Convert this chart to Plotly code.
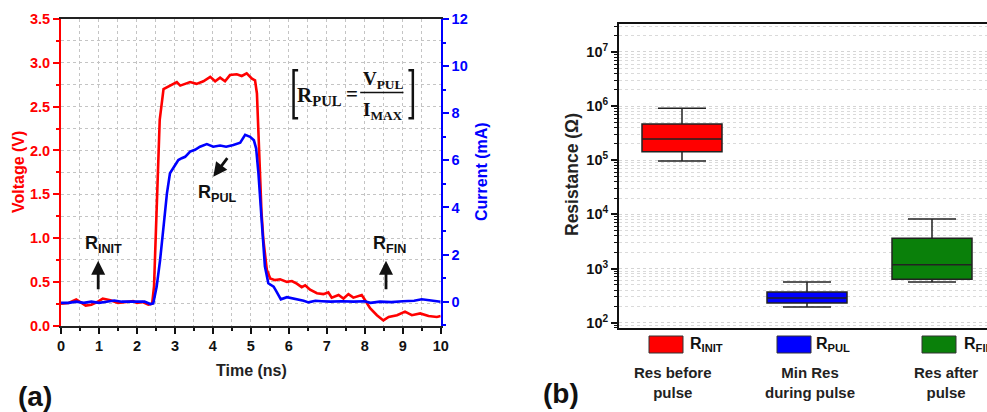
import plotly.graph_objects as go

# ---------------- data ----------------
time_v = [0, 0.2, 0.4, 0.5, 0.65, 0.8, 0.95, 1.1, 1.3, 1.5, 1.7, 1.9, 2.0, 2.15, 2.3, 2.4,
          2.45, 2.5, 2.55, 2.6, 2.7, 2.87, 3.05, 3.14, 3.25, 3.4, 3.57, 3.75, 3.93, 4.06,
          4.19, 4.32, 4.45, 4.63, 4.76, 4.89, 5.03, 5.11, 5.16, 5.22, 5.28, 5.33, 5.42,
          5.51, 5.64, 5.77, 5.95, 6.08, 6.21, 6.34, 6.43, 6.56, 6.74, 6.91, 7.04, 7.13,
          7.31, 7.44, 7.57, 7.7, 7.92, 8.01, 8.14, 8.32, 8.49, 8.63, 8.85, 9.06, 9.24,
          9.46, 9.68, 9.9, 10]
voltage = [0.25, 0.26, 0.30, 0.27, 0.23, 0.24, 0.27, 0.31, 0.29, 0.26, 0.27, 0.28, 0.26, 0.27,
           0.24, 0.25, 0.45, 1.05, 1.75, 2.35, 2.70, 2.74, 2.78, 2.74, 2.76, 2.78, 2.76, 2.79,
           2.84, 2.79, 2.83, 2.79, 2.86, 2.87, 2.85, 2.88, 2.82, 2.80, 2.65, 2.0, 1.3, 0.98,
           0.64, 0.54, 0.52, 0.53, 0.50, 0.51, 0.48, 0.44, 0.46, 0.41, 0.37, 0.36, 0.38, 0.32,
           0.35, 0.31, 0.36, 0.32, 0.35, 0.29, 0.20, 0.12, 0.06, 0.10, 0.12, 0.16, 0.12, 0.14,
           0.11, 0.10, 0.11]

time_i = [0, 0.2, 0.4, 0.6, 0.8, 1.0, 1.2, 1.4, 1.6, 1.8, 2.0, 2.2, 2.35, 2.43, 2.52, 2.61,
          2.70, 2.79, 2.87, 2.96, 3.09, 3.18, 3.27, 3.4, 3.53, 3.66, 3.84, 4.01, 4.19, 4.35,
          4.54, 4.72, 4.85, 4.98, 5.08, 5.14, 5.2, 5.29, 5.37, 5.46, 5.6, 5.68, 5.79, 5.95,
          6.08, 6.21, 6.39, 6.52, 6.7, 6.87, 7.1, 7.4, 7.7, 8.0, 8.15, 8.4, 8.7, 9.0, 9.3,
          9.5, 9.7, 10]
current = [-0.05, -0.05, 0.0, -0.05, 0.0, -0.05, 0.0, 0.05, 0.0, 0.0, -0.02, 0.0, -0.1, -0.07,
           0.64, 1.77, 3.18, 4.6, 5.45, 5.7, 6.01, 6.09, 6.15, 6.37, 6.45, 6.58, 6.69, 6.58,
           6.63, 6.58, 6.65, 6.75, 7.08, 7.0, 6.85, 6.5, 5.45, 3.33, 1.5, 0.78, 0.64, 0.42,
           0.10, 0.19, 0.15, 0.10, 0.04, -0.03, 0.04, 0.02, 0.0, 0.02, 0.0, 0.02, -0.05, 0.0,
           -0.02, 0.02, 0.04, 0.1, 0.05, 0.0]

box_labels = ["R<sub>INIT</sub>", "R<sub>PUL</sub>", "R<sub>FIN</sub>"]
box_desc = ["Res before<br>pulse", "Min Res<br>during pulse", "Res after<br>pulse"]
box_colors = ["#ff0000", "#0000ff", "#0a800a"]
res_upper = [9.1e5, 565, 8220]
res_q3 = [4.7e5, 369, 3620]
res_median = [2.47e5, 286, 1178]
res_q1 = [1.44e5, 231, 634]
res_lower = [9.7e4, 195, 565]

log_ticks = [1e2, 1e3, 1e4, 1e5, 1e6, 1e7]
log_ticktext = ["10<sup>2</sup>", "10<sup>3</sup>", "10<sup>4</sup>",
                "10<sup>5</sup>", "10<sup>6</sup>", "10<sup>7</sup>"]

# ---------------- figure ----------------
SANS = "Liberation Sans, Arial, sans-serif"
SERIF = "Liberation Serif, Times New Roman, serif"
GRID = "#c4c4c4"
W, H = 987, 412

fig = go.Figure()

fig.add_trace(go.Scatter(x=time_v, y=voltage, mode="lines",
                         line=dict(color="#ff0000", width=2.6),
                         xaxis="x", yaxis="y", showlegend=False))
fig.add_trace(go.Scatter(x=time_i, y=current, mode="lines",
                         line=dict(color="#0000ff", width=2.6),
                         xaxis="x", yaxis="y2", showlegend=False))

for i in range(len(box_labels)):
    fig.add_trace(go.Box(x=[i], q1=[res_q1[i]], median=[res_median[i]], q3=[res_q3[i]],
                         lowerfence=[res_lower[i]], upperfence=[res_upper[i]],
                         width=0.64, whiskerwidth=0.6, fillcolor=box_colors[i],
                         line=dict(color="#222222", width=1.5), boxpoints=False,
                         xaxis="x2", yaxis="y3", showlegend=False, hoverinfo="skip"))

left_dom_y = [(H - 325.7) / H, (H - 19) / H]
right_dom_y = [(H - 328) / H, (H - 24) / H]

fig.update_layout(
    width=W, height=H, margin=dict(l=0, r=0, t=0, b=0, autoexpand=False),
    paper_bgcolor="white", plot_bgcolor="white", boxmode="overlay",
    font=dict(family=SANS, size=14, color="#111111"),
    xaxis=dict(domain=[61 / W, 440.7 / W], range=[0, 10], anchor="y", automargin=False,
               dtick=1, tick0=0, ticks="outside", ticklen=6, tickwidth=2, tickcolor="#111",
               tickfont=dict(size=14.5, weight="bold", color="#111"),
               showline=True, linecolor="#222", linewidth=2, mirror=True,
               showgrid=True, gridcolor=GRID, griddash="dot", gridwidth=1, zeroline=False,
               minor=dict(dtick=0.5, ticks="outside", ticklen=3, tickwidth=1.5, tickcolor="#111",
                          showgrid=True, gridcolor=GRID, griddash="dot")),
    yaxis=dict(domain=left_dom_y, range=[0, 3.5], anchor="x", automargin=False,
               dtick=0.5, tick0=0, tickformat=".1f", ticks="outside", ticklen=6, tickwidth=2,
               tickcolor="#ff0000", tickfont=dict(size=14.5, weight="bold", color="#ff0000"),
               showline=True, linecolor="#ff0000", linewidth=2,
               showgrid=True, gridcolor=GRID, griddash="dot", zeroline=False,
               minor=dict(dtick=0.25, ticks="outside", ticklen=3, tickwidth=1.5, tickcolor="#ff0000",
                          showgrid=True, gridcolor=GRID, griddash="dot")),
    yaxis2=dict(domain=left_dom_y, range=[-1.02, 12], anchor="x", overlaying="y", side="right",
                automargin=False,
                tickvals=[0, 2, 4, 6, 8, 10, 12], ticks="outside", ticklen=6, tickwidth=2,
                tickcolor="#0000ff", tickfont=dict(size=14.5, weight="bold", color="#0000ff"),
                showline=True, linecolor="#0000ff", linewidth=2, showgrid=False, zeroline=False,
                minor=dict(dtick=1, tick0=0, ticks="outside", ticklen=3, tickwidth=1.5,
                           tickcolor="#0000ff", showgrid=False)),
    xaxis2=dict(domain=[619 / W, 1.0], range=[-0.504, 2.44], anchor="y3", automargin=False,
                showticklabels=False, ticks="", showline=True, linecolor="#111", linewidth=2,
                mirror=True, showgrid=False, zeroline=False),
    yaxis3=dict(domain=right_dom_y, type="log", range=[1.902, 7.517], anchor="x2",
                automargin=False,
                tickvals=log_ticks, ticktext=log_ticktext, ticks="outside", ticklen=6,
                tickwidth=2, tickcolor="#111",
                tickfont=dict(size=14.5, weight="bold", color="#111"),
                showline=True, linecolor="#111", linewidth=2,
                showgrid=True, gridcolor="#d4d4d4", griddash="dot", zeroline=False,
                minor=dict(dtick="D1", ticks="outside", ticklen=3, tickwidth=1.2, tickcolor="#111",
                           showgrid=True, gridcolor="#dadada", griddash="dot")),
)

ann = []
shapes = []


def paper_text(text, px, py, size, color, angle=0):
    return dict(text=text, x=px / W, y=(H - py) / H, xref="paper", yref="paper",
                xanchor="center", yanchor="middle", showarrow=False, textangle=angle,
                font=dict(size=size, color=color))


# axis titles and panel labels
ann.append(paper_text("<b>Voltage (V)</b>", 18, 172, 16, "#ff0000", -90))
ann.append(paper_text("<b>Current (mA)</b>", 481, 172, 16, "#0000ff", -90))
ann.append(paper_text("<b>Time (ns)</b>", 251.5, 370.5, 16, "#222"))
ann.append(paper_text("<b>Resistance (Ω)</b>", 572, 175, 17.5, "#222", -90))
ann.append(paper_text("<b>(a)</b>", 35, 396, 28, "#111"))
ann.append(paper_text("<b>(b)</b>", 561, 393, 28, "#111"))

# labels in left chart
ann.append(dict(text="<b>R<sub>PUL</sub></b>", x=4.10, y=1.51, xref="x", yref="y",
                showarrow=False, font=dict(size=18, color="#111")))
ann.append(dict(text="<b>R<sub>INIT</sub></b>", x=1.13, y=0.93, xref="x", yref="y",
                showarrow=False, font=dict(size=18, color="#111")))
ann.append(dict(text="<b>R<sub>FIN</sub></b>", x=8.66, y=0.93, xref="x", yref="y",
                showarrow=False, font=dict(size=18, color="#111")))
for (hx, hy, tx, ty) in [(4.01, 1.70, 4.41, 1.93), (0.98, 0.74, 0.98, 0.40), (8.56, 0.74, 8.56, 0.40)]:
    ann.append(dict(text="", x=hx, y=hy, ax=tx, ay=ty, xref="x", yref="y", axref="x", ayref="y",
                    showarrow=True, arrowhead=2, arrowsize=1, arrowwidth=2.8, arrowcolor="#111"))

# formula
ann.append(dict(text="<b>R<sub>PUL</sub></b>", x=6.82, y=2.62, xref="x", yref="y",
                showarrow=False, font=dict(family=SERIF, size=21, color="#111")))
ann.append(dict(text="<b>=</b>", x=7.66, y=2.64, xref="x", yref="y",
                showarrow=False, font=dict(family=SERIF, size=21, color="#111")))
ann.append(dict(text="<b>V<sub>PUL</sub></b>", x=8.47, y=2.80, xref="x", yref="y",
                showarrow=False, font=dict(family=SERIF, size=19, color="#111")))
ann.append(dict(text="<b>I<sub>MAX</sub></b>", x=8.47, y=2.45, xref="x", yref="y",
                showarrow=False, font=dict(family=SERIF, size=19, color="#111")))
shapes.append(dict(type="line", xref="x", yref="y", x0=7.88, x1=9.02, y0=2.661, y1=2.661,
                   line=dict(color="#111", width=1.5)))
shapes.append(dict(type="path", xref="x", yref="y",
                   path="M 6.245,2.916 L 6.125,2.916 L 6.125,2.368 L 6.245,2.368",
                   line=dict(color="#111", width=2.5)))
shapes.append(dict(type="path", xref="x", yref="y",
                   path="M 9.15,2.916 L 9.266,2.916 L 9.266,2.368 L 9.15,2.368",
                   line=dict(color="#111", width=2.5)))

# legend under the box chart
rect_x = [(-0.264, 0.008), (-0.24, 0.032), (-0.08, 0.192)]
label_x = [0.048, 0.056, 0.24]
desc_x = [-0.07, 0.02, 0.11]
for i in range(len(box_labels)):
    shapes.append(dict(type="rect", xref="x2", yref="paper",
                       x0=i + rect_x[i][0], x1=i + rect_x[i][1],
                       y0=(H - 353) / H, y1=(H - 336) / H,
                       fillcolor=box_colors[i], line=dict(color="#333", width=1)))
    ann.append(dict(text="<b>" + box_labels[i] + "</b>", x=i + label_x[i], y=(H - 344) / H,
                    xref="x2", yref="paper", xanchor="left", yanchor="middle", showarrow=False,
                    font=dict(size=16, color="#111")))
    ann.append(dict(text="<b>" + box_desc[i] + "</b>", x=i + desc_x[i], y=(H - 382) / H,
                    xref="x2", yref="paper", xanchor="center", yanchor="middle", showarrow=False,
                    font=dict(size=15, color="#222")))

fig.update_layout(annotations=ann, shapes=shapes)
fig.write_html("out.html")
